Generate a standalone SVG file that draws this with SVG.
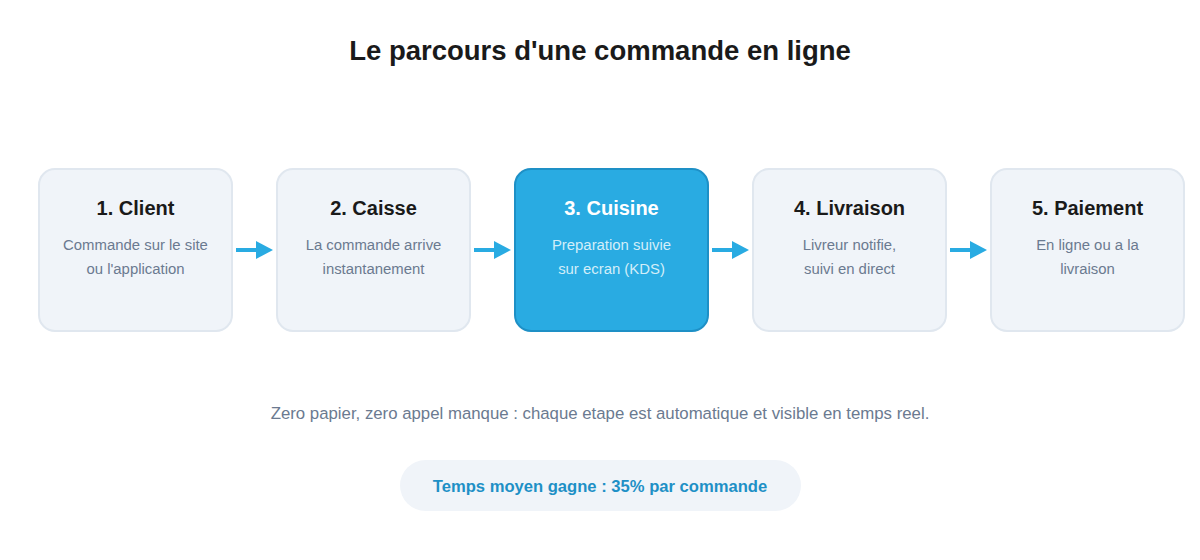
<svg xmlns="http://www.w3.org/2000/svg" width="1200" height="560" viewBox="0 0 1200 560">
<defs>
<style>
.box{fill:#f0f4f9;stroke:#e0e7ef;stroke-width:2}
.hl{fill:#29abe2;stroke:#1e90c6;stroke-width:2}
.t{font-family:"Liberation Sans",Arial,sans-serif;font-weight:bold;font-size:20px;fill:#1a1a1a;text-anchor:middle}
.s{font-family:"Liberation Sans",Arial,sans-serif;font-size:14.9px;fill:#6b7a90;text-anchor:middle}
.th{fill:#ffffff}
.sh{fill:#d2eef9}
.conn{stroke:#29abe2;stroke-width:4;fill:none}
.head{fill:#29abe2}
</style>
</defs>
<rect width="1200" height="560" fill="#ffffff"/>
<text x="600" y="60" font-family="'Liberation Sans',Arial,sans-serif" font-weight="bold" font-size="27.5" fill="#1a1a1a" text-anchor="middle">Le parcours d'une commande en ligne</text>
<g id="connectors">
<line class="conn" x1="236" y1="250" x2="258" y2="250"/><polygon class="head" points="256,241 273,250 256,259"/>
<line class="conn" x1="474" y1="250" x2="496" y2="250"/><polygon class="head" points="494,241 511,250 494,259"/>
<line class="conn" x1="712" y1="250" x2="734" y2="250"/><polygon class="head" points="732,241 749,250 732,259"/>
<line class="conn" x1="950" y1="250" x2="972" y2="250"/><polygon class="head" points="970,241 987,250 970,259"/>
</g>
<g id="n1">
<rect class="box" x="39" y="169" width="193" height="162" rx="16"/>
<text class="t" x="135.5" y="215">1. Client</text>
<text class="s" x="135.5" y="250">Commande sur le site</text>
<text class="s" x="135.5" y="274">ou l'application</text>
</g>
<g id="n2">
<rect class="box" x="277" y="169" width="193" height="162" rx="16"/>
<text class="t" x="373.5" y="215">2. Caisse</text>
<text class="s" x="373.5" y="250">La commande arrive</text>
<text class="s" x="373.5" y="274">instantanement</text>
</g>
<g id="n3">
<rect class="hl" x="515" y="169" width="193" height="162" rx="16"/>
<text class="t th" x="611.5" y="215">3. Cuisine</text>
<text class="s sh" x="611.5" y="250">Preparation suivie</text>
<text class="s sh" x="611.5" y="274">sur ecran (KDS)</text>
</g>
<g id="n4">
<rect class="box" x="753" y="169" width="193" height="162" rx="16"/>
<text class="t" x="849.5" y="215">4. Livraison</text>
<text class="s" x="849.5" y="250">Livreur notifie,</text>
<text class="s" x="849.5" y="274">suivi en direct</text>
</g>
<g id="n5">
<rect class="box" x="991" y="169" width="193" height="162" rx="16"/>
<text class="t" x="1087.5" y="215">5. Paiement</text>
<text class="s" x="1087.5" y="250">En ligne ou a la</text>
<text class="s" x="1087.5" y="274">livraison</text>
</g>
<text x="600" y="419" font-family="'Liberation Sans',Arial,sans-serif" font-size="16.8" fill="#6b7a90" text-anchor="middle">Zero papier, zero appel manque : chaque etape est automatique et visible en temps reel.</text>
<g id="badge">
<rect x="400" y="460" width="401" height="51" rx="25.5" fill="#f0f4f9"/>
<text x="600" y="492" font-family="'Liberation Sans',Arial,sans-serif" font-weight="bold" font-size="16.6" fill="#1e90c6" text-anchor="middle">Temps moyen gagne : 35% par commande</text>
</g>
</svg>
